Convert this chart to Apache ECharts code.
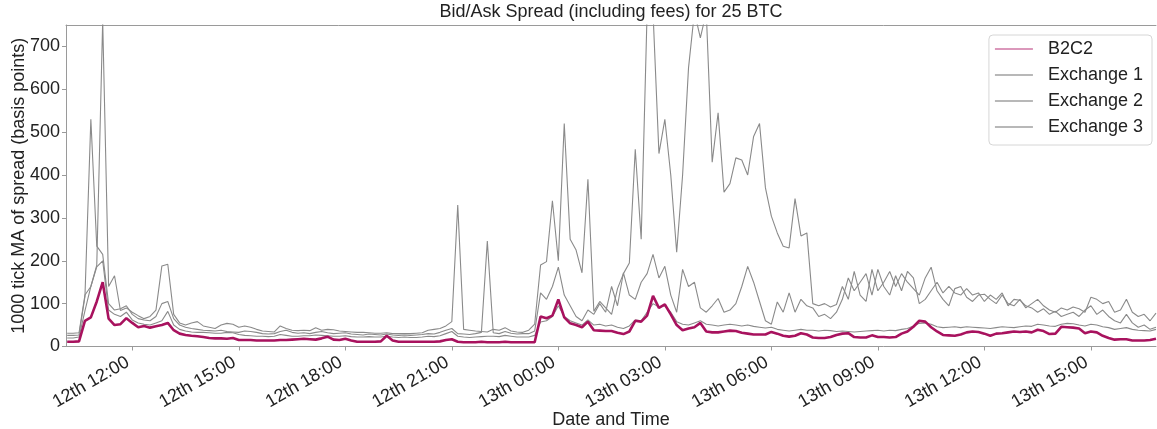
<!DOCTYPE html>
<html><head><meta charset="utf-8">
<script src="https://cdn.jsdelivr.net/npm/echarts@6/dist/echarts.min.js"></script>
<style>html,body{margin:0;padding:0;background:#fff}#c{width:1157px;height:429px}</style>
</head><body><div id="c"></div>
<script>
// time in hours after "12th 00:00"; samples every 10 minutes starting 12th 10:10
const START_HOUR = 10 + 10/60;
const STEP_HOURS = 10/60;
const X_MIN = 10 + 8/60;
const X_MAX = 40 + 50/60;
const tickHours = [12, 15, 18, 21, 24, 27, 30, 33, 36, 39];
const seriesNames = ['B2C2', 'Exchange 1', 'Exchange 2', 'Exchange 3'];

const b2c2 = [
 11,11,12,60,68,105,150,65,50,52,
 66,55,45,48,44,47,50,55,38,30,
 27,25,24,22,20,19,19,18,20,15,
 15,15,14,14,14,14,15,15,16,17,
 18,17,16,19,23,16,15,18,14,11,
 11,11,11,12,25,14,11,11,11,11,
 11,11,11,12,15,17,11,10,10,10,
 11,10,10,10,11,10,10,10,10,10,
 70,66,72,110,68,54,50,45,58,38,
 37,36,36,32,29,35,60,58,72,118,
 90,98,75,50,38,42,45,55,35,33,
 33,35,37,36,32,30,28,28,28,34,
 30,25,23,25,31,28,21,20,20,22,
 27,30,31,22,21,21,26,22,22,21,
 22,30,35,46,60,58,45,35,27,26,
 25,28,33,35,34,30,25,30,31,33,
 35,34,35,33,39,36,29,30,46,45,
 44,42,31,35,33,25,20,16,17,17,
 14,14,14,15,18
];
const exchange1 = [
 31,31,32,120,140,190,760,140,165,84,
 90,80,72,65,70,85,188,192,75,55,
 50,55,58,48,45,42,50,54,52,45,
 48,45,40,36,35,34,48,42,38,37,
 38,37,44,38,40,39,36,35,34,33,
 33,32,31,31,32,30,30,30,30,31,
 32,38,40,42,48,58,330,40,38,36,
 35,34,40,38,44,36,34,33,38,52,
 190,198,340,200,520,250,225,172,390,82,
 105,90,75,135,170,195,460,250,780,780,
 450,530,400,220,400,650,780,720,780,430,
 545,360,380,440,435,400,490,520,370,304,
 265,234,230,345,258,265,100,95,100,92,
 98,140,110,175,120,105,180,130,150,175,
 140,170,150,135,120,160,185,130,110,95,
 135,140,115,105,120,122,110,100,120,100,
 95,110,90,100,110,95,85,80,90,85,
 92,88,80,115,110,100,105,80,85,110,
 80,70,75,60,78
];
const exchange2 = [
 26,26,27,116,530,234,215,100,85,88,
 95,75,65,62,60,70,100,105,65,50,
 45,42,40,38,37,36,38,35,34,33,
 36,35,33,30,29,30,35,38,33,31,
 32,30,33,35,32,30,31,32,29,28,
 27,29,28,27,29,27,26,27,26,27,
 28,30,29,33,38,42,30,29,28,30,
 33,246,32,30,35,31,29,30,30,36,
 125,110,140,185,120,95,70,60,85,75,
 100,80,140,95,172,120,110,150,170,215,
 160,187,120,80,180,140,150,90,80,95,
 112,80,85,100,140,187,150,105,60,52,
 104,80,125,80,110,95,90,70,75,65,
 80,110,160,130,150,170,120,180,140,120,
 165,130,175,160,100,110,130,150,125,140,
 125,120,135,120,125,105,120,110,125,95,
 110,108,95,90,80,88,75,82,70,75,
 80,70,85,95,75,85,70,60,55,75,
 55,45,50,40,45
];
const exchange3 = [
 20,20,22,83,140,186,200,85,75,70,
 80,62,55,52,50,55,60,82,50,40,
 36,34,33,33,32,31,31,33,32,28,
 26,25,24,24,23,24,28,26,24,24,
 25,25,27,26,25,24,24,25,23,22,
 22,23,22,22,24,22,21,22,21,21,
 22,24,23,25,30,35,24,22,21,22,
 23,24,24,23,26,24,22,22,22,26,
 57,60,70,95,70,60,55,50,62,50,
 52,48,50,45,42,48,62,60,80,100,
 92,95,80,58,52,50,55,60,52,50,
 48,50,52,50,48,50,47,45,43,45,
 40,38,36,38,40,38,38,36,38,37,
 35,36,35,34,35,36,37,38,36,38,
 37,40,42,48,54,55,52,46,44,45,
 46,44,46,45,44,43,42,44,46,45,
 44,46,48,47,52,50,48,47,52,54,
 53,50,48,52,50,46,44,40,42,44,
 40,38,37,36,40
];

const FONT = "'Liberation Sans', Arial, sans-serif";
const TXT = '#222';
const SPINE = '#9a9a9a';
const MAG = '#a8125e';
const GRAY = '#8a8a8a';

function pairs(vals) { return vals.map((v, i) => [START_HOUR + i * STEP_HOURS, v]); }
function fmtHour(v) {
  const day = 12 + Math.floor(v / 24);
  const h = Math.round(v % 24);
  return day + 'th ' + (h < 10 ? '0' : '') + h + ':00';
}

const chart = echarts.init(document.getElementById('c'), null, {renderer: 'canvas'});
const grayLine = {color: GRAY, width: 1.1};
chart.setOption({
  animation: false,
  backgroundColor: '#fff',
  textStyle: {fontFamily: FONT},
  title: {
    text: 'Bid/Ask Spread (including fees) for 25 BTC',
    left: 611, top: 3, textAlign: 'center', padding: 0,
    textStyle: {fontSize: 18, fontWeight: 'normal', color: TXT, fontFamily: FONT}
  },
  grid: {left: 66, right: 1, top: 25, bottom: 82.5, containLabel: false, outerBoundsMode: 'none'},
  legend: {
    orient: 'vertical', right: 5, top: 35,
    padding: [5, 9, 9, 6],
    icon: 'rect',
    itemWidth: 38, itemHeight: 1.6, itemGap: 8,
    backgroundColor: 'rgba(255,255,255,0.85)',
    borderColor: '#d6d6d6', borderWidth: 1, borderRadius: 4,
    textStyle: {fontSize: 18, color: TXT, fontFamily: FONT, lineHeight: 18, padding: [0, 0, 0, 10]},
    data: [
      {name: seriesNames[0], itemStyle: {color: '#cf76a4'}},
      {name: seriesNames[1], itemStyle: {color: '#a0a0a0'}},
      {name: seriesNames[2], itemStyle: {color: '#a0a0a0'}},
      {name: seriesNames[3], itemStyle: {color: '#a0a0a0'}}
    ]
  },
  xAxis: [{
    type: 'value', min: X_MIN, max: X_MAX,
    axisLine: {show: true, lineStyle: {color: SPINE, width: 1}},
    axisTick: {show: true, customValues: tickHours, length: 4, lineStyle: {color: SPINE}},
    axisLabel: {customValues: tickHours, rotate: 30, formatter: fmtHour, fontSize: 18, color: TXT, fontFamily: FONT, margin: 12, padding: [0, 5, 0, 0]},
    splitLine: {show: false},
    name: 'Date and Time', nameLocation: 'middle', nameGap: 65, nameMoveOverlap: false,
    nameTextStyle: {fontSize: 18, color: TXT, fontFamily: FONT}
  }, {
    type: 'value', min: X_MIN, max: X_MAX, position: 'top',
    axisLine: {show: true, lineStyle: {color: SPINE, width: 1}},
    axisTick: {show: false}, axisLabel: {show: false}, splitLine: {show: false}
  }],
  yAxis: {
    type: 'value', min: 0, max: 750, interval: 100,
    axisLine: {show: true, lineStyle: {color: SPINE, width: 1}},
    axisTick: {show: true, length: 4, lineStyle: {color: SPINE}},
    axisLabel: {showMaxLabel: false, fontSize: 18, color: TXT, fontFamily: FONT, margin: 6},
    splitLine: {show: false},
    name: '1000 tick MA of spread (basis points)', nameLocation: 'middle', nameGap: 38, nameMoveOverlap: false,
    nameTextStyle: {fontSize: 18, color: TXT, fontFamily: FONT}
  },
  series: [
    {name: seriesNames[1], type: 'line', data: pairs(exchange1), symbol: 'none', lineStyle: grayLine, itemStyle: {color: GRAY}, z: 2},
    {name: seriesNames[2], type: 'line', data: pairs(exchange2), symbol: 'none', lineStyle: grayLine, itemStyle: {color: GRAY}, z: 2},
    {name: seriesNames[3], type: 'line', data: pairs(exchange3), symbol: 'none', lineStyle: grayLine, itemStyle: {color: GRAY}, z: 2},
    {name: seriesNames[0], type: 'line', data: pairs(b2c2), symbol: 'none', lineStyle: {color: MAG, width: 2.6}, itemStyle: {color: MAG}, z: 3}
  ]
});
</script></body></html>
